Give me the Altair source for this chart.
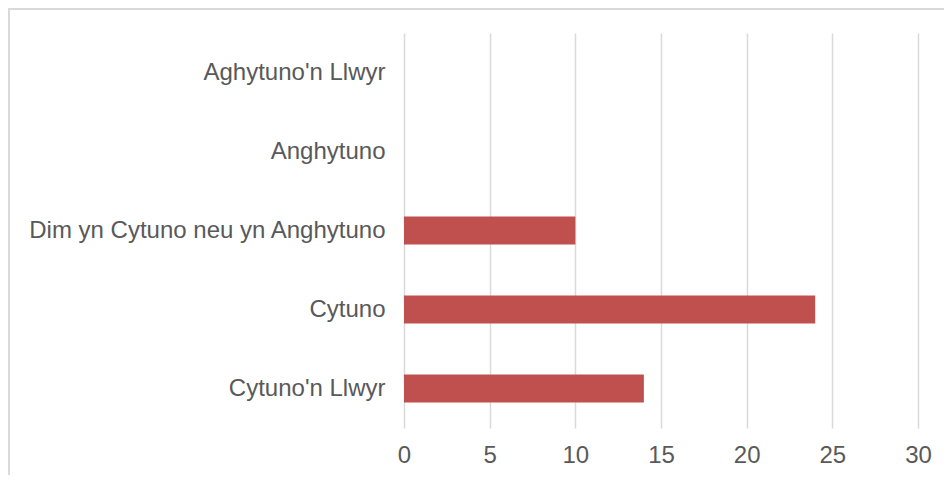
import altair as alt
import pandas as pd

categories = ["Aghytuno'n Llwyr", "Anghytuno", "Dim yn Cytuno neu yn Anghytuno", "Cytuno", "Cytuno'n Llwyr"]
values = [0, 0, 10, 24, 14]
x_ticks = [0, 5, 10, 15, 20, 25, 30]

df = pd.DataFrame({"category": categories, "value": values})

FONT = "Liberation Sans"
TEXT = "#595959"
GRID = "#D9D9D9"

W, H = 514, 395
PAD = {"left": 396, "top": 25, "right": 26, "bottom": 47}

bars = alt.Chart(df).mark_bar(color="#C0504D").encode(
    x=alt.X("value:Q",
            scale=alt.Scale(domain=[0, 30], nice=False),
            axis=alt.Axis(values=x_ticks, title=None, domain=False, ticks=False,
                          grid=True, gridColor=GRID, gridWidth=1.5,
                          labelFlush=False,
                          labelFont=FONT, labelFontSize=24, labelColor=TEXT,
                          labelPadding=15)),
    y=alt.Y("category:N", sort=categories,
            scale=alt.Scale(paddingInner=0.645, paddingOuter=0.3225),
            axis=alt.Axis(title=None, domain=False, ticks=False, grid=False,
                          labelFont=FONT, labelFontSize=24, labelColor=TEXT,
                          labelPadding=19, labelLimit=400)),
)

frame = pd.DataFrame({"a": [0]})
top_edge = alt.Chart(frame).mark_rule(color=GRID, strokeWidth=2, clip=False).encode(
    x=alt.value(-396), x2=alt.value(W + 80), y=alt.value(-24)
)
left_edge = alt.Chart(frame).mark_rule(color=GRID, strokeWidth=2, clip=False).encode(
    x=alt.value(-395), y=alt.value(-25), y2=alt.value(H + 80)
)

chart = alt.layer(top_edge, left_edge, bars).properties(
    width=W, height=H,
    autosize=alt.AutoSizeParams(type="none"),
    padding=PAD,
    background="white",
).configure_view(strokeWidth=0, stroke="transparent")

chart.save("out.html", embed_options={"renderer": "svg", "actions": False})
